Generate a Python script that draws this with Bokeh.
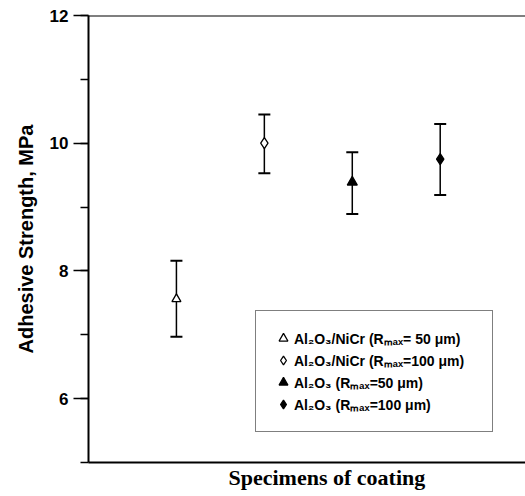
from bokeh.plotting import figure
from bokeh.models import (ColumnDataSource, Whisker, TeeHead, Legend, LegendItem,
                          SingleIntervalTicker, FixedTicker, Span, Title, Range1d)
from bokeh.embed import file_html
from bokeh.resources import INLINE

# data
specimens = [1, 2, 3, 4]
labels = ["Al\u2082O\u2083/NiCr (R\u2098\u2090\u2093= 50 \u03bcm)",
          "Al\u2082O\u2083/NiCr (R\u2098\u2090\u2093=100 \u03bcm)",
          "Al\u2082O\u2083 (R\u2098\u2090\u2093=50 \u03bcm)",
          "Al\u2082O\u2083 (R\u2098\u2090\u2093=100 \u03bcm)"]
strength = [7.56, 10.0, 9.39, 9.75]
upper = [8.16, 10.45, 9.86, 10.30]
lower = [6.97, 9.53, 8.89, 9.19]
markers = ["triangle", "diamond", "triangle", "diamond"]
filled = [False, False, True, True]
sizes = [9, 11, 10, 11]

p = figure(width=525, height=496, output_backend="svg", toolbar_location=None,
           x_range=Range1d(0, 4.97), y_range=Range1d(5, 12),
           min_border_left=88, min_border_top=15, min_border_bottom=34, min_border_right=0)
p.outline_line_color = None
p.grid.visible = False
p.background_fill_color = "white"

# y axis
ya = p.yaxis[0]
ya.ticker = SingleIntervalTicker(interval=2, num_minor_ticks=2)
ya.axis_line_width = 2
ya.axis_line_color = "black"
ya.major_tick_out = 15
ya.major_tick_in = 0
ya.minor_tick_out = 8
ya.minor_tick_in = 0
ya.major_tick_line_width = 1.5
ya.minor_tick_line_width = 1.5
ya.major_label_text_font = "Liberation Sans"
ya.major_label_text_font_style = "bold"
ya.major_label_text_font_size = "17px"
ya.major_label_text_color = "black"
ya.major_label_standoff = 5
ya.axis_label = "Adhesive Strength, MPa"
ya.axis_label_text_font = "Liberation Sans"
ya.axis_label_text_font_style = "bold"
ya.axis_label_text_font_size = "20px"
ya.axis_label_text_color = "black"
ya.axis_label_standoff = 10

# x axis
xa = p.xaxis[0]
xa.ticker = FixedTicker(ticks=[])
xa.axis_line_width = 2
xa.axis_line_color = "black"
xa.major_tick_line_color = None
xa.minor_tick_line_color = None

# top frame line
p.add_layout(Span(location=12, dimension="width", line_color="black", line_width=2))

# error bars
src = ColumnDataSource(dict(x=specimens, y=strength, upper=upper, lower=lower))
w = Whisker(source=src, base="x", upper="upper", lower="lower", dimension="height",
            line_width=1.5, line_color="black",
            upper_head=TeeHead(size=12, line_width=2, line_color="black"),
            lower_head=TeeHead(size=12, line_width=2, line_color="black"))
p.add_layout(w)

items = []
for i in range(4):
    r = p.scatter([specimens[i]], [strength[i]], marker=markers[i], size=sizes[i],
                  line_color="black", line_width=1.3,
                  fill_color="black" if filled[i] else "white")
    items.append(LegendItem(label=labels[i], renderers=[r]))

leg = Legend(items=items, location=(167, 30), border_line_color="black",
             border_line_width=1.5, background_fill_color="white", background_fill_alpha=1,
             padding=16, spacing=0, margin=0, label_height=22, glyph_height=22,
             glyph_width=22, label_standoff=0, label_width=182,
             label_text_font="Liberation Sans", label_text_font_style="bold",
             label_text_font_size="14px", label_text_color="black")
p.add_layout(leg)

# x label
p.add_layout(Title(text="Specimens of coating", align="left", offset=140,
                   text_font="Liberation Serif", text_font_style="bold",
                   text_font_size="22px", text_color="black", standoff=0), "below")

open("out.html", "w").write(file_html(p, INLINE))
